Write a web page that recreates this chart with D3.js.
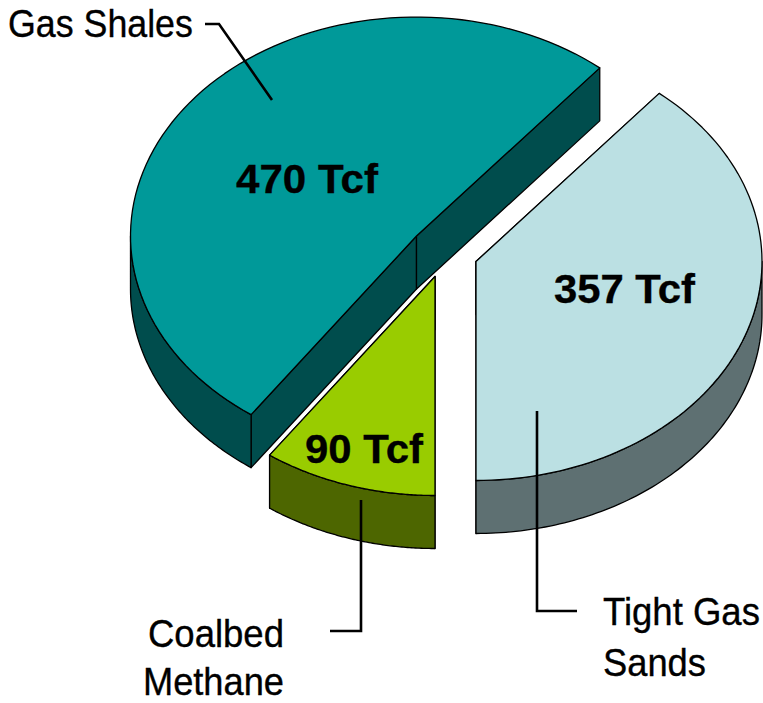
<!DOCTYPE html>
<html>
<head>
<meta charset="utf-8">
<script src="https://cdnjs.cloudflare.com/ajax/libs/d3/7.8.5/d3.min.js"></script>
<style>
  html, body { margin: 0; padding: 0; background: #fff; }
  svg { display: block; }
  text { font-family: "Liberation Sans", Arial, sans-serif; fill: #000; stroke: #000; stroke-width: 0.35; }
</style>
</head>
<body>
<svg></svg>
<script>
// data
let categories = ['Tight Gas Sands', 'Coalbed Methane', 'Gas Shales']
let values = [357, 90, 470]
let unit = 'Tcf'
let topColors = ['#BBE0E3', '#99CC00', '#009999']
let wallColors = ['#5E7072', '#4D6600', '#004D4D']
let nameLines = [['Tight Gas', 'Sands'], ['Coalbed', 'Methane'], ['Gas Shales']]

let width = 763
let height = 703
let radiusX = 286
let radiusY = 219
let depth = 53

// where each exploded slice has its apex
let apex = [
    {x: 476, y: 261.5},
    {x: 435, y: 276.5},
    {x: 416.5, y: 236}
]

let svg = d3.select('svg').attr('width', width).attr('height', height)

// the tight gas slice ends straight down, the rest follow clockwise
let total = d3.sum(values)
let firstAngle = Math.PI - values[0] / total * 2 * Math.PI

let pie = d3.pie()
    .value((d) => d)
    .sort(null)
    .startAngle(firstAngle)
    .endAngle(firstAngle + 2 * Math.PI)

let xScale = d3.scaleLinear().domain([-1, 1]).range([-radiusX, radiusX])
let yScale = d3.scaleLinear().domain([-1, 1]).range([radiusY, -radiusY])

let rim = (i, a) => [apex[i].x + xScale(Math.sin(a)), apex[i].y + yScale(Math.cos(a))]
let line = d3.line()

// points along the rim between two angles
let rimPoints = (i, a0, a1) => {
    return d3.range(0, 91).map((k) => rim(i, a0 + (a1 - a0) * k / 90))
}

let lowered = (pts) => pts.map((p) => [p[0], p[1] + depth])

let drawShape = (points, fill) => {
    svg.append('path')
        .attr('d', line(points) + 'Z')
        .attr('fill', fill)
        .attr('stroke', '#000')
        .attr('stroke-width', 1.3)
        .attr('stroke-linejoin', 'round')
}

// draw order: shale first, then coalbed, then tight gas
let arcs = pie(values)
let order = [2, 1, 0]

order.forEach((i) => {
    let a0 = arcs[i].startAngle
    let a1 = arcs[i].endAngle
    let p = [apex[i].x, apex[i].y]

    // cut walls
    ;[a0, a1].forEach((a) => {
        let edge = [p, rim(i, a)]
        drawShape(edge.concat(lowered(edge).reverse()), wallColors[i])
    })

    // outer wall, only the front half of the rim can be seen
    let f0 = Math.max(a0, Math.PI / 2)
    let f1 = Math.min(a1, 3 * Math.PI / 2)
    if (f1 > f0) {
        let top = rimPoints(i, f0, f1)
        drawShape(top.concat(lowered(top).reverse()), wallColors[i])
    }

    // top face
    drawShape([p].concat(rimPoints(i, a0, a1)), topColors[i])
})

// squeeze a text sideways to the width it has in the picture
let fitWidth = function (d) {
    let natural = this.getComputedTextLength()
    d3.select(this).attr('transform',
        'translate(' + d.x + ',' + d.y + ') scale(' + (d.w / natural) + ',1)')
}

// value labels
let valueLabels = [
    {i: 0, x: 554, y: 303, w: 141},
    {i: 1, x: 305, y: 463, w: 118},
    {i: 2, x: 236, y: 193, w: 142}
]

svg.selectAll('.value')
    .data(valueLabels)
    .enter()
    .append('text')
    .attr('class', 'value')
    .attr('font-size', 41)
    .attr('font-weight', 'bold')
    .text((d) => values[d.i] + ' ' + unit)
    .each(fitWidth)

// category names
let nameLabels = [
    {i: 0, n: 0, x: 603, y: 625, w: 157},
    {i: 0, n: 1, x: 603, y: 676, w: 103},
    {i: 1, n: 0, x: 148, y: 647, w: 136},
    {i: 1, n: 1, x: 143, y: 695, w: 141},
    {i: 2, n: 0, x: 8, y: 37, w: 185}
]

svg.selectAll('.name')
    .data(nameLabels)
    .enter()
    .append('text')
    .attr('class', 'name')
    .attr('font-size', 39)
    .text((d) => nameLines[d.i][d.n])
    .each(fitWidth)

// leader lines from the names to the slices
let leaders = [
    [[205, 24], [219, 24], [272, 100]],
    [[361, 500], [361, 631], [330, 631]],
    [[537, 411], [537, 611], [577, 611]]
]

svg.selectAll('.leader')
    .data(leaders)
    .enter()
    .append('path')
    .attr('class', 'leader')
    .attr('d', (d) => line(d))
    .attr('fill', 'none')
    .attr('stroke', '#000')
    .attr('stroke-width', 2.6)
</script>
</body>
</html>
